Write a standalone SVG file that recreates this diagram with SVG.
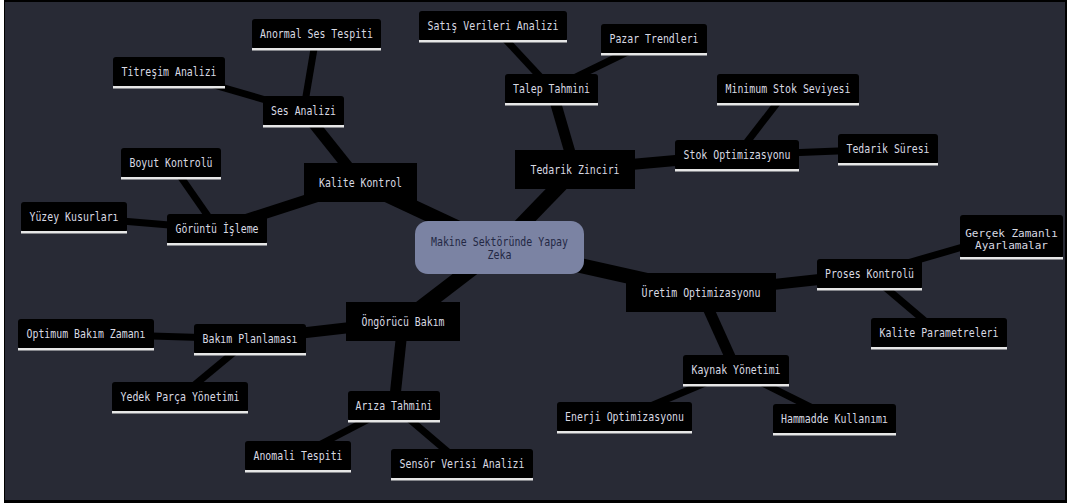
<svg xmlns="http://www.w3.org/2000/svg" width="1067" height="503" viewBox="0 0 1067 503">
<style>
.t{font-family:"DejaVu Sans Mono","Liberation Mono",monospace;font-size:12px;fill:#d8d9e2;text-anchor:middle}
.t2{font-size:11px}
.rt{font-family:"DejaVu Sans Mono","Liberation Mono",monospace;font-size:12px;fill:#232844;text-anchor:middle}
.b{fill:#000}
.u{fill:#e6e6e6}
.e0{stroke:#000;stroke-width:15;fill:none}
.e1{stroke:#000;stroke-width:11;fill:none}
.e2{stroke:#000;stroke-width:7;fill:none}
</style>
<rect x="0" y="0" width="1067" height="503" fill="#ffffff"/>
<rect x="4" y="0" width="1063" height="503" fill="#000"/>
<rect x="5" y="2" width="1060" height="498" fill="#282a35"/>
<g id="connectors">
<line class="e0" x1="499.5" y1="247.5" x2="360.5" y2="182.5"/>
<line class="e0" x1="499.5" y1="247.5" x2="575" y2="169.5"/>
<line class="e0" x1="499.5" y1="247.5" x2="701" y2="292.5"/>
<line class="e0" x1="499.5" y1="247.5" x2="403" y2="321.5"/>
<line class="e1" x1="360.5" y1="182.5" x2="303.5" y2="111"/>
<line class="e1" x1="360.5" y1="182.5" x2="217" y2="229"/>
<line class="e2" x1="303.5" y1="111" x2="316.5" y2="34"/>
<line class="e2" x1="303.5" y1="111" x2="169" y2="72"/>
<line class="e2" x1="217" y1="229" x2="171" y2="163"/>
<line class="e2" x1="217" y1="229" x2="74" y2="217"/>
<line class="e1" x1="575" y1="169.5" x2="551.5" y2="89"/>
<line class="e1" x1="575" y1="169.5" x2="737" y2="155"/>
<line class="e2" x1="551.5" y1="89" x2="493" y2="26"/>
<line class="e2" x1="551.5" y1="89" x2="654" y2="39"/>
<line class="e2" x1="737" y1="155" x2="788" y2="89"/>
<line class="e2" x1="737" y1="155" x2="888" y2="149"/>
<line class="e1" x1="701" y1="292.5" x2="869.5" y2="274"/>
<line class="e1" x1="701" y1="292.5" x2="736" y2="370"/>
<line class="e2" x1="869.5" y1="274" x2="966" y2="246"/>
<line class="e2" x1="869.5" y1="274" x2="939" y2="333"/>
<line class="e2" x1="736" y1="370" x2="624.5" y2="417"/>
<line class="e2" x1="736" y1="370" x2="834.5" y2="419"/>
<line class="e1" x1="403" y1="321.5" x2="250" y2="339"/>
<line class="e1" x1="403" y1="321.5" x2="394" y2="406"/>
<line class="e2" x1="250" y1="339" x2="86" y2="334"/>
<line class="e2" x1="250" y1="339" x2="180" y2="397"/>
<line class="e2" x1="394" y1="406" x2="298" y2="456"/>
<line class="e2" x1="394" y1="406" x2="462" y2="464"/>
</g>
<g id="root">
<rect x="415" y="221" width="169" height="53" rx="13" fill="#7b83a3"/>
<text class="rt" x="499.5" y="246" textLength="137" lengthAdjust="spacingAndGlyphs">Makine Sektöründe Yapay</text>
<text class="rt" x="499.5" y="258.5" textLength="24" lengthAdjust="spacingAndGlyphs">Zeka</text>
</g>
<g id="kalite-kontrol"><rect class="b" x="304" y="163" width="113" height="39"/><text class="t" x="360.5" y="186.5" textLength="83" lengthAdjust="spacingAndGlyphs">Kalite Kontrol</text></g>
<g id="tedarik-zinciri"><rect class="b" x="515" y="150" width="120" height="39"/><text class="t" x="575" y="173.5" textLength="89" lengthAdjust="spacingAndGlyphs">Tedarik Zinciri</text></g>
<g id="uretim-optimizasyonu"><rect class="b" x="626" y="273" width="150" height="39"/><text class="t" x="701" y="296.5" textLength="119" lengthAdjust="spacingAndGlyphs">Üretim Optimizasyonu</text></g>
<g id="ongorucu-bakim"><rect class="b" x="346" y="302" width="114" height="39"/><text class="t" x="403" y="325.5" textLength="83" lengthAdjust="spacingAndGlyphs">Öngörücü Bakım</text></g>
<g id="ses-analizi"><rect class="b" x="263" y="96" width="81" height="30" rx="3"/><rect class="u" x="263" y="125" width="81" height="2.5"/><text class="t" x="303.5" y="115" textLength="65" lengthAdjust="spacingAndGlyphs">Ses Analizi</text></g>
<g id="anormal-ses-tespiti"><rect class="b" x="252" y="19" width="129" height="30" rx="3"/><rect class="u" x="252" y="48" width="129" height="2.5"/><text class="t" x="316.5" y="38" textLength="113" lengthAdjust="spacingAndGlyphs">Anormal Ses Tespiti</text></g>
<g id="titresim-analizi"><rect class="b" x="113" y="57" width="112" height="30" rx="3"/><rect class="u" x="113" y="86" width="112" height="2.5"/><text class="t" x="169" y="76" textLength="95" lengthAdjust="spacingAndGlyphs">Titreşim Analizi</text></g>
<g id="goruntu-isleme"><rect class="b" x="167" y="214" width="100" height="30" rx="3"/><rect class="u" x="167" y="243" width="100" height="2.5"/><text class="t" x="217" y="233" textLength="83" lengthAdjust="spacingAndGlyphs">Görüntü İşleme</text></g>
<g id="boyut-kontrolu"><rect class="b" x="121" y="148" width="100" height="30" rx="3"/><rect class="u" x="121" y="177" width="100" height="2.5"/><text class="t" x="171" y="167" textLength="83" lengthAdjust="spacingAndGlyphs">Boyut Kontrolü</text></g>
<g id="yuzey-kusurlari"><rect class="b" x="21" y="202" width="106" height="30" rx="3"/><rect class="u" x="21" y="231" width="106" height="2.5"/><text class="t" x="74" y="221" textLength="89" lengthAdjust="spacingAndGlyphs">Yüzey Kusurları</text></g>
<g id="talep-tahmini"><rect class="b" x="505" y="74" width="93" height="30" rx="3"/><rect class="u" x="505" y="103" width="93" height="2.5"/><text class="t" x="551.5" y="93" textLength="77" lengthAdjust="spacingAndGlyphs">Talep Tahmini</text></g>
<g id="satis-verileri-analizi"><rect class="b" x="419" y="11" width="148" height="30" rx="3"/><rect class="u" x="419" y="40" width="148" height="2.5"/><text class="t" x="493" y="30" textLength="131" lengthAdjust="spacingAndGlyphs">Satış Verileri Analizi</text></g>
<g id="pazar-trendleri"><rect class="b" x="601" y="24" width="106" height="30" rx="3"/><rect class="u" x="601" y="53" width="106" height="2.5"/><text class="t" x="654" y="43" textLength="89" lengthAdjust="spacingAndGlyphs">Pazar Trendleri</text></g>
<g id="stok-optimizasyonu"><rect class="b" x="675" y="140" width="124" height="30" rx="3"/><rect class="u" x="675" y="169" width="124" height="2.5"/><text class="t" x="737" y="159" textLength="107" lengthAdjust="spacingAndGlyphs">Stok Optimizasyonu</text></g>
<g id="minimum-stok-seviyesi"><rect class="b" x="717" y="74" width="142" height="30" rx="3"/><rect class="u" x="717" y="103" width="142" height="2.5"/><text class="t" x="788" y="93" textLength="125" lengthAdjust="spacingAndGlyphs">Minimum Stok Seviyesi</text></g>
<g id="tedarik-suresi"><rect class="b" x="838" y="134" width="100" height="30" rx="3"/><rect class="u" x="838" y="163" width="100" height="2.5"/><text class="t" x="888" y="153" textLength="83" lengthAdjust="spacingAndGlyphs">Tedarik Süresi</text></g>
<g id="proses-kontrolu"><rect class="b" x="817" y="259" width="105" height="30" rx="3"/><rect class="u" x="817" y="288" width="105" height="2.5"/><text class="t" x="869.5" y="278" textLength="89" lengthAdjust="spacingAndGlyphs">Proses Kontrolü</text></g>
<g id="gercek-zamanli-ayarlamalar"><rect class="b" x="960" y="215" width="103" height="43" rx="3"/><rect class="u" x="960" y="257" width="103" height="2.5"/><text class="t t2" x="1011.5" y="236.5">Gerçek Zamanlı</text><text class="t t2" x="1011.5" y="249">Ayarlamalar</text></g>
<g id="kalite-parametreleri"><rect class="b" x="871" y="318" width="136" height="30" rx="3"/><rect class="u" x="871" y="347" width="136" height="2.5"/><text class="t" x="939" y="337" textLength="119" lengthAdjust="spacingAndGlyphs">Kalite Parametreleri</text></g>
<g id="kaynak-yonetimi"><rect class="b" x="683" y="355" width="106" height="30" rx="3"/><rect class="u" x="683" y="384" width="106" height="2.5"/><text class="t" x="736" y="374" textLength="89" lengthAdjust="spacingAndGlyphs">Kaynak Yönetimi</text></g>
<g id="enerji-optimizasyonu"><rect class="b" x="557" y="402" width="135" height="30" rx="3"/><rect class="u" x="557" y="431" width="135" height="2.5"/><text class="t" x="624.5" y="421" textLength="119" lengthAdjust="spacingAndGlyphs">Enerji Optimizasyonu</text></g>
<g id="hammadde-kullanimi"><rect class="b" x="773" y="404" width="123" height="30" rx="3"/><rect class="u" x="773" y="433" width="123" height="2.5"/><text class="t" x="834.5" y="423" textLength="107" lengthAdjust="spacingAndGlyphs">Hammadde Kullanımı</text></g>
<g id="bakim-planlamasi"><rect class="b" x="194" y="324" width="112" height="30" rx="3"/><rect class="u" x="194" y="353" width="112" height="2.5"/><text class="t" x="250" y="343" textLength="95" lengthAdjust="spacingAndGlyphs">Bakım Planlaması</text></g>
<g id="optimum-bakim-zamani"><rect class="b" x="18" y="319" width="136" height="30" rx="3"/><rect class="u" x="18" y="348" width="136" height="2.5"/><text class="t" x="86" y="338" textLength="119" lengthAdjust="spacingAndGlyphs">Optimum Bakım Zamanı</text></g>
<g id="yedek-parca-yonetimi"><rect class="b" x="112" y="382" width="136" height="30" rx="3"/><rect class="u" x="112" y="411" width="136" height="2.5"/><text class="t" x="180" y="401" textLength="119" lengthAdjust="spacingAndGlyphs">Yedek Parça Yönetimi</text></g>
<g id="ariza-tahmini"><rect class="b" x="348" y="391" width="92" height="30" rx="3"/><rect class="u" x="348" y="420" width="92" height="2.5"/><text class="t" x="394" y="410" textLength="77" lengthAdjust="spacingAndGlyphs">Arıza Tahmini</text></g>
<g id="anomali-tespiti"><rect class="b" x="245" y="441" width="106" height="30" rx="3"/><rect class="u" x="245" y="470" width="106" height="2.5"/><text class="t" x="298" y="460" textLength="89" lengthAdjust="spacingAndGlyphs">Anomali Tespiti</text></g>
<g id="sensor-verisi-analizi"><rect class="b" x="391" y="449" width="142" height="30" rx="3"/><rect class="u" x="391" y="478" width="142" height="2.5"/><text class="t" x="462" y="468" textLength="125" lengthAdjust="spacingAndGlyphs">Sensör Verisi Analizi</text></g>
</svg>
